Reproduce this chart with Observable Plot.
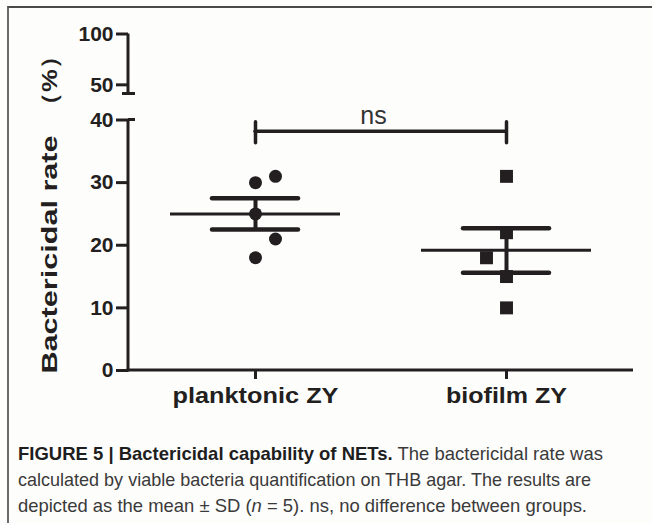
<!DOCTYPE html>
<html>
<head>
<meta charset="utf-8">
<script src="https://cdn.jsdelivr.net/npm/d3@7"></script>
<script src="https://cdn.jsdelivr.net/npm/@observablehq/plot@0.6"></script>
<style>
  html, body { margin: 0; padding: 0; background: #ffffff; }
  #page { position: relative; width: 652px; height: 523px; overflow: hidden; background: #fdfdfc; }
  #frame { position: absolute; left: 7px; top: 6px; width: 660px; height: 530px;
           border-left: 2px solid #6a6a6a; border-top: 2px solid #4a4a4a; }
  #chart { position: absolute; left: 0; top: 0; }
  #caption { position: absolute; left: 18px; top: 441px; font-family: "Liberation Sans Narrow", "Liberation Sans", Arial, sans-serif;
             font-size: 19px; line-height: 26px; color: #3a3a3a; }
  #caption .line { white-space: nowrap; display: block; width: max-content; transform-origin: 0 50%; }
  #caption b { color: #1e1e1e; }
</style>
</head>
<body>
<div id="page">
  <div id="frame"></div>
  <div id="chart"></div>
  <div id="caption">
    <span class="line"><b>FIGURE 5 | Bactericidal capability of NETs.</b> The bactericidal rate was</span>
    <span class="line">calculated by viable bacteria quantification on THB agar. The results are</span>
    <span class="line">depicted as the mean ± SD (<i>n</i> = 5). ns, no difference between groups.</span>
  </div>
</div>
<script>
// ---- data ----
const groups = ["planktonic ZY", "biofilm ZY"];
const planktonicValues = [31, 30, 25, 21, 18];
const planktonicSlots  = [1, 0, 0, 1, 0];      // column slot of each point (0 = centre, 1 = right, -1 = left)
const biofilmValues    = [31, 22, 18, 15, 10];
const biofilmSlots     = [0, 0, -1, 0, 0];
const means   = [25, 19.2];
const errLow  = [22.5, 15.6];
const errHigh = [27.5, 22.7];
const yTicks = [0, 10, 20, 30, 40, 50, 100];
const lowerSegment = [0, 40];
const upperSegment = [41, 100];
const comparisons = [{from: "planktonic ZY", to: "biofilm ZY", y: 38.2, label: "ns"}];
const yLabel = "Bactericidal rate";
const yUnit = "（%）";

// ---- build tables ----
const plankPts = planktonicValues.map((v, i) => ({group: groups[0], value: v, slot: planktonicSlots[i]}));
const bioPts = biofilmValues.map((v, i) => ({group: groups[1], value: v, slot: biofilmSlots[i]}));
const summary = groups.map((g, i) => ({group: g, mean: means[i], low: errLow[i], high: errHigh[i]}));

const ink = "#231f20";
const slotShift = 20;

function dotMarks(data, symbol, r) {
  return [-1, 0, 1].map(s => Plot.dot(data, {
    filter: d => d.slot === s, x: "group", y: "value", symbol, r, fill: ink, stroke: "none", dx: s * slotShift
  }));
}

function axisLines(index, scales, values, dims) {
  const x0 = dims.marginLeft;
  const xEnd = dims.width - dims.marginRight;
  const g = d3.create("svg:g").attr("stroke", ink).attr("stroke-width", 3).attr("fill", "none");
  const yLowTop = scales.y(lowerSegment[1]);
  const yUpBottom = scales.y(upperSegment[0]);
  // lower y segment
  g.append("line").attr("x1", x0).attr("x2", x0)
    .attr("y1", scales.y(lowerSegment[0]) + 1.5).attr("y2", yLowTop);
  g.append("line").attr("x1", x0).attr("x2", x0 + 7).attr("y1", yLowTop).attr("y2", yLowTop);
  // upper y segment
  g.append("line").attr("x1", x0).attr("x2", x0)
    .attr("y1", yUpBottom).attr("y2", scales.y(upperSegment[1]));
  g.append("line").attr("x1", x0 - 6).attr("x2", x0 + 7).attr("y1", yUpBottom).attr("y2", yUpBottom);
  // x axis
  g.append("line").attr("x1", x0 - 1.5).attr("x2", xEnd)
    .attr("y1", scales.y(0)).attr("y2", scales.y(0));
  return g.node();
}

const plot = Plot.plot({
  width: 652,
  height: 420,
  marginLeft: 128,
  marginRight: 19,
  marginTop: 20,
  marginBottom: 50,
  style: {fontFamily: "'Liberation Sans', Arial, sans-serif", color: ink, background: "transparent"},
  x: {type: "point", domain: groups, range: [255, 506], padding: 0},
  y: {type: "linear", domain: [lowerSegment[0], lowerSegment[1], upperSegment[0], upperSegment[1]],
      range: [370, 119.5, 93.5, 33.5]},
  marks: [
    axisLines,
    Plot.axisY({ticks: yTicks, tickSize: 12, tickPadding: 3, fontSize: 21, fontWeight: "bold", strokeWidth: 3, stroke: ink, label: null}),
    Plot.axisX({tickSize: 9, tickPadding: 8, fontSize: 22, fontWeight: "bold", strokeWidth: 3, stroke: ink, label: null}),
    ...dotMarks(plankPts, "circle", 6.5),
    ...dotMarks(bioPts, "square", 7.3),
    Plot.ruleX(summary, {x: "group", y1: "low", y2: "high", stroke: ink, strokeWidth: 4}),
    Plot.ruleY(summary, {x1: "group", x2: "group", y: "mean", insetLeft: -85, insetRight: -85, stroke: ink, strokeWidth: 3}),
    Plot.ruleY(summary, {x1: "group", x2: "group", y: "low", insetLeft: -43, insetRight: -43, stroke: ink, strokeWidth: 4.5, strokeLinecap: "round"}),
    Plot.ruleY(summary, {x1: "group", x2: "group", y: "high", insetLeft: -43, insetRight: -43, stroke: ink, strokeWidth: 4.5, strokeLinecap: "round"}),
    Plot.ruleY(comparisons, {x1: "from", x2: "to", y: "y", stroke: ink, strokeWidth: 3.5, strokeLinecap: "round"}),
    Plot.ruleX(comparisons, {x: "from", y1: "y", y2: "y", insetTop: -9, insetBottom: -12, stroke: ink, strokeWidth: 3.5, strokeLinecap: "round"}),
    Plot.ruleX(comparisons, {x: "to", y1: "y", y2: "y", insetTop: -9, insetBottom: -12, stroke: ink, strokeWidth: 3.5, strokeLinecap: "round"}),
    Plot.text(comparisons, {x: "from", y: "y", text: "label", dx: 118, dy: -15, fontSize: 25, lineAnchor: "middle", fill: "#333"}),
    Plot.text([yLabel], {text: d => d, frameAnchor: "bottom-left", rotate: -90, textAnchor: "start", lineAnchor: "bottom",
      dx: -72, dy: 3, fontSize: 22, fontWeight: "bold", fill: ink}),
    Plot.text([yUnit], {text: d => d, frameAnchor: "top-left", rotate: -90, textAnchor: "end", lineAnchor: "bottom",
      dx: -72, dy: 23, fontSize: 22, fontWeight: "bold", fill: ink})
  ]
});

document.getElementById("chart").appendChild(plot);

function fitText(svg, content, length) {
  svg.querySelectorAll("text").forEach(t => {
    if (t.textContent === content) {
      t.setAttribute("textLength", length);
      t.setAttribute("lengthAdjust", "spacingAndGlyphs");
    }
  });
}
fitText(plot, groups[0], 166);
fitText(plot, groups[1], 121);
fitText(plot, yLabel, 238);
fitText(plot, yUnit, 74);

// fit caption lines to the widths seen in the figure
const targets = [585, 573, 569];
document.querySelectorAll("#caption .line").forEach((el, i) => {
  const w = el.getBoundingClientRect().width;
  el.style.transform = `scaleX(${targets[i] / w})`;
});
</script>
</body>
</html>
